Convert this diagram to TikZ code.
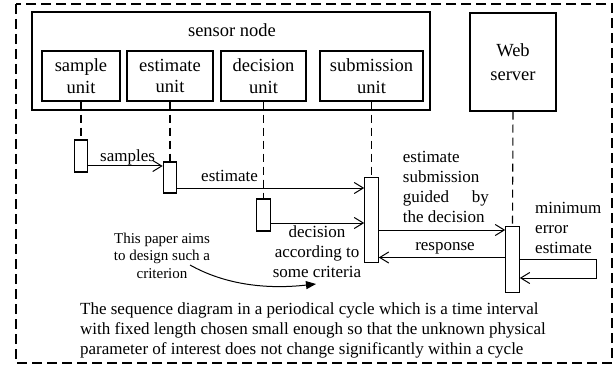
\documentclass[tikz,border=0pt]{standalone}
\usepackage{fontspec}
\setmainfont{Liberation Serif}
\usetikzlibrary{arrows.meta}
\begin{document}
\begin{tikzpicture}[x=1pt,y=-1pt,
  box/.style={draw, line width=1.2pt, inner sep=0, align=center, font=\fontsize{18.5}{21.5}\selectfont},
  act/.style={draw, fill=white, line width=1.1pt, minimum width=13.5pt, inner sep=0},
  life/.style={line width=1.1pt, dash pattern=on 8pt off 5pt},
  msg/.style={line width=1pt, -{Straight Barb[length=9pt,width=11pt,line width=1pt]}},
  lbl/.style={font=\fontsize{17}{20}\selectfont, inner sep=0},
  note/.style={font=\fontsize{15}{17.5}\selectfont, inner sep=0, align=center}
]
\useasboundingbox (0,0) rectangle (615,366);
% outer frame
\draw[line width=1.2pt, dash pattern=on 10pt off 5pt] (16,4) rectangle (612,363);
% sensor node
\node[box, minimum width=398pt, minimum height=98pt] (sensor) at (231,61) {};
\node[lbl, font=\fontsize{18.5}{21.5}\selectfont] (sensorlbl) at (232,30) {sensor node};
\node[box, minimum width=78pt, minimum height=50pt] (sample) at (81,76) {sample\\unit};
\node[box, minimum width=86pt, minimum height=50pt] (estim) at (170,76) {estimate\\unit};
\node[box, minimum width=85pt, minimum height=50pt] (decis) at (263.5,76) {decision\\unit};
\node[box, minimum width=103pt, minimum height=50pt] (submi) at (371.5,76) {submission\\unit};
\node[box, minimum width=86pt, minimum height=98pt, font=\fontsize{18.5}{23.5}\selectfont] (web) at (513,62) {Web\\server};
% activations
\node[act, minimum height=32pt] (sampleA) at (81,156) {};
\node[act, minimum height=31pt] (estA) at (170,177.5) {};
\node[act, minimum height=32pt] (decA) at (263.5,215) {};
\node[act, minimum height=85pt] (subA) at (371.5,220) {};
\node[act, minimum height=66.5pt] (webA) at (512.5,259.3) {};
% lifelines
\draw[life] (sample.south) -- (sampleA.north);
\draw[life] (estim.south) -- (estA.north);
\draw[life] (decis.south) -- (decA.north);
\draw[life] (submi.south) -- (subA.north);
\draw[life] (web.south) -- (webA.north);
% message heights
\coordinate (y1) at (0,166);
\coordinate (y2) at (0,188);
\coordinate (y3) at (0,223);
\coordinate (y4) at (0,230);
\coordinate (y5) at (0,257.5);
\coordinate (y6) at (0,259.5);
\coordinate (y7) at (0,278);
\coordinate (loopA) at (596.5,259.5);
\coordinate (loopB) at (596.5,278);
\draw[msg] (sampleA.east |- y1) -- (estA.west |- y1);
\draw[msg] (estA.east |- y2) -- (subA.west |- y2);
\draw[msg] (decA.east |- y3) -- (subA.west |- y3);
\draw[msg] (subA.east |- y4) -- (webA.west |- y4);
\draw[msg] (webA.west |- y5) -- (subA.east |- y5);
\draw[msg] (webA.east |- y6) -- (loopA) -- (loopB) -- (webA.east |- y7);
% labels
\node[lbl, anchor=base west] (lsamples) at (100,162) {samples};
\node[lbl, anchor=base west] (lestimate) at (201,182) {estimate};
\node[lbl, anchor=west, align=left] (lguided) at (402.7,187) {estimate\\submission\\\makebox[86pt][s]{guided by}\\the decision};
\node[lbl, anchor=base] (lresp) at (445,250) {response};
\node[lbl, anchor=west, align=left] (lmin) at (535,228) {minimum\\error\\estimate};
\node[lbl, align=center] (ldec) at (317,252) {decision\\according to\\some criteria};
\node[note] (paper) at (162,255.5) {This paper aims\\to design such a\\criterion};
\coordinate (cs) at (190,265);
\coordinate (ce) at (316,284);
\draw[line width=1pt, -{Triangle[length=10pt,width=8pt]}] (cs) .. controls (222,283) and (262,290) .. (ce);
\node[lbl, anchor=west, align=left, font=\fontsize{17}{20.3}\selectfont] (caption) at (80,330.4) {The sequence diagram in a periodical cycle which is a time interval\\with fixed length chosen small enough so that the unknown physical\\parameter of interest does not change significantly within a cycle};
\end{tikzpicture}
\end{document}
